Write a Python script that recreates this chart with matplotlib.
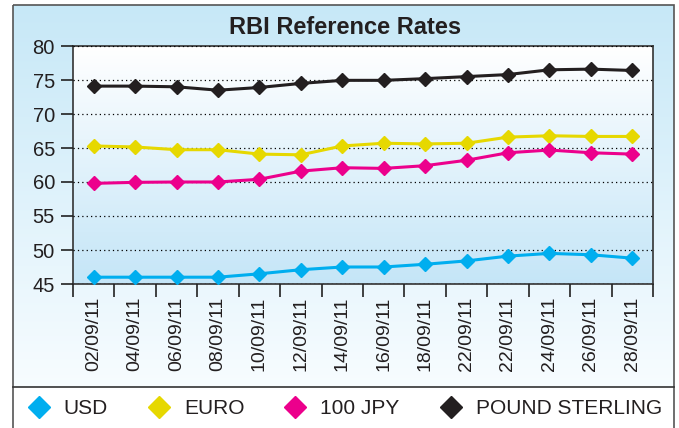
import numpy as np
import matplotlib
matplotlib.use("Agg")
import matplotlib.pyplot as plt
from matplotlib.lines import Line2D
from matplotlib.patches import Rectangle

plt.rcParams['font.family'] = ['Liberation Sans', 'DejaVu Sans']

dates = ["02/09/11", "04/09/11", "06/09/11", "08/09/11", "10/09/11", "12/09/11", "14/09/11",
         "16/09/11", "18/09/11", "22/09/11", "22/09/11", "24/09/11", "26/09/11", "28/09/11"]
usd = [46.0, 46.0, 46.0, 46.0, 46.5, 47.1, 47.5, 47.5, 47.9, 48.4, 49.1, 49.5, 49.3, 48.8]
euro = [65.3, 65.15, 64.75, 64.75, 64.1, 64.0, 65.3, 65.7, 65.6, 65.7, 66.6, 66.8, 66.7, 66.7]
jpy = [59.8, 59.95, 60.0, 60.0, 60.4, 61.6, 62.1, 62.0, 62.4, 63.2, 64.3, 64.7, 64.3, 64.1]
pound = [74.1, 74.1, 74.0, 73.5, 73.9, 74.5, 74.95, 74.95, 75.2, 75.5, 75.8, 76.5, 76.6, 76.4]

names = ["USD", "EURO", "100 JPY", "POUND STERLING"]
colors = ["#00aeef", "#e6d800", "#ec008c", "#231f20"]
txt = "#231f20"

W, H = 679, 428
fig = plt.figure(figsize=(W / 100, H / 100), dpi=100)

# background layer in pixel coords
bg = fig.add_axes([0, 0, 1, 1], zorder=-5)
bg.set_xlim(0, W)
bg.set_ylim(H, 0)
bg.axis("off")
grad = np.linspace(0, 1, 256).reshape(-1, 1)
top_c = np.array([0.78, 0.91, 0.97])
bot_c = np.array([0.97, 0.99, 1.0])
img = top_c + (bot_c - top_c) * grad[..., None]
bg.imshow(img, extent=(13, 674, 387, 5), aspect="auto", zorder=0)
bg.add_patch(Rectangle((13, 387), 661, 45, facecolor="white", edgecolor="none", zorder=1))
bg.add_patch(Rectangle((13, 5), 661, 430, facecolor="none", edgecolor="#555555", lw=1.2, zorder=2))
bg.plot([13, 674], [387, 387], color="#333333", lw=1.2, zorder=3)

# main chart
ax = fig.add_axes([73 / W, 1 - 284 / H, 580 / W, 238 / H])
x = np.arange(len(dates))
pimg = np.array([1.0, 1.0, 1.0]) + (np.array([0.77, 0.9, 0.97]) - 1.0) * grad[..., None]
ax.imshow(pimg, extent=(-0.5, 13.5, 45, 80), aspect="auto", zorder=0)

for vals, c in zip([usd, euro, jpy, pound], colors):
    ax.plot(x, vals, color=c, lw=2.2, marker="D", markersize=7, zorder=3)

ax.set_xlim(-0.5, 13.5)
ax.set_ylim(45, 80)
ax.set_yticks(range(45, 81, 5))
ax.yaxis.grid(True, linestyle=(0, (1, 2.5)), color="black", lw=0.9, zorder=1)
ax.set_axisbelow(False)
ax.set_xticks(np.arange(-0.5, 14, 1))
ax.set_xticklabels([])
ax.set_xticks(x, minor=True)
ax.set_xticklabels(dates, minor=True, rotation=90, fontsize=14, color=txt)
ax.tick_params(axis="x", which="minor", length=0, pad=9)
ax.tick_params(axis="x", which="major", length=9, width=1.2, color="#222222")
ax.tick_params(axis="y", length=9, width=1.2, labelsize=14.5, labelcolor=txt, color="#222222", pad=4)
for s in ax.spines.values():
    s.set_color("#333333")
    s.set_linewidth(1.2)

fig.text(345 / W, 1 - 27 / H, "RBI Reference Rates", ha="center", va="center",
         fontsize=17, fontweight="bold", color=txt)

handles = [Line2D([], [], color=c, marker="D", markersize=11, linestyle="none") for c in colors]
fig.legend(handles, names, loc="center", bbox_to_anchor=(344 / W, 1 - 409 / H), ncol=4,
           frameon=False, fontsize=15, handletextpad=0.6, columnspacing=1.85,
           handlelength=1.2, labelcolor=txt)

fig.savefig("out.png", dpi=100)
